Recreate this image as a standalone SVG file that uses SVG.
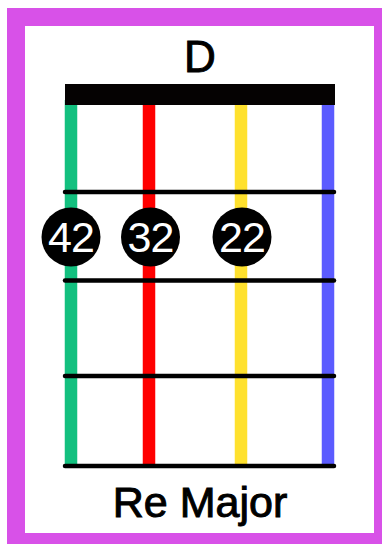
<svg xmlns="http://www.w3.org/2000/svg" width="382" height="544" viewBox="0 0 382 544">
  <style>
    .fret { stroke: #000; stroke-width: 4.5; stroke-linecap: round; }
    .str { stroke-width: 12.5; }
    .dot { fill: #000; }
    .num { fill: #fff; font-family: "Liberation Sans", Arial, sans-serif; font-size: 43px; text-anchor: middle; letter-spacing: -1px; }
    .lbl { fill: #000; stroke: #000; stroke-width: 1; font-family: "Liberation Sans", Arial, sans-serif; text-anchor: middle; }
  </style>
  <rect x="7" y="8" width="380" height="540" fill="#d851e8"/>
  <rect x="25" y="26" width="349" height="507" fill="#fff"/>
  <g id="title"><text class="lbl" x="200" y="72" font-size="44">D</text></g>
  <g id="strings">
    <line class="str" x1="71" y1="100" x2="71" y2="466" stroke="#13c07f"/>
    <line class="str" x1="149" y1="100" x2="149" y2="466" stroke="#ff0000"/>
    <line class="str" x1="241" y1="100" x2="241" y2="466" stroke="#ffe12e"/>
    <line class="str" x1="328" y1="100" x2="328" y2="466" stroke="#5b5bff"/>
  </g>
  <g id="nut"><rect x="65" y="84" width="270" height="21" fill="#050202"/></g>
  <g id="frets">
    <line class="fret" x1="65" y1="192" x2="334" y2="192"/>
    <line class="fret" x1="65" y1="280.5" x2="334" y2="280.5"/>
    <line class="fret" x1="65" y1="376" x2="334" y2="376"/>
    <line class="fret" x1="65" y1="466" x2="334" y2="466"/>
  </g>
  <g id="dot42"><circle class="dot" cx="71" cy="237" r="29.5"/><text class="num" x="71" y="252">42</text></g>
  <g id="dot32"><circle class="dot" cx="150.5" cy="237" r="29.5"/><text class="num" x="150.5" y="252">32</text></g>
  <g id="dot22"><circle class="dot" cx="242" cy="237" r="29.5"/><text class="num" x="242" y="252">22</text></g>
  <g id="name"><text class="lbl" x="200" y="517" font-size="43">Re Major</text></g>
</svg>
